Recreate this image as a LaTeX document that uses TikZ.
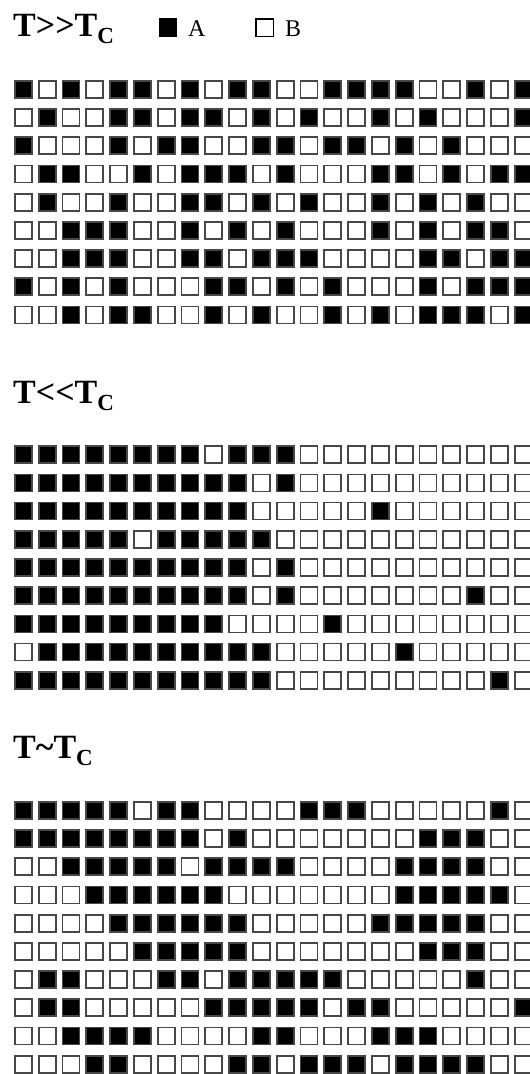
\documentclass[tikz,border=0pt]{standalone}
\usepackage{fontspec}
\setmainfont{Liberation Serif}
\usetikzlibrary{positioning}
\tikzset{
    cell/.style={draw=black!72, line width=1.7pt, minimum size=17pt,
        inner sep=0pt, outer sep=0pt},
    phase/.style={font=\fontsize{34}{40}\selectfont\bfseries,
        anchor=base west, inner sep=0pt},
    keybox/.style={inner sep=0pt, outer sep=0pt},
    keytext/.style={font=\fontsize{24}{28}\selectfont, anchor=base west, inner sep=0pt}
}
\newcommand{\subC}{\raisebox{-7pt}{\fontsize{23}{23}\selectfont C}}
% one lattice: name, top edge, rows of 1 (A) and 0 (B)
\newcommand{\lattice}[3]{%
    \foreach \row [count=\r] in {#3} {
        \foreach \v [count=\c] in \row {
            \ifnum\v=1 \def\tone{black}\else\def\tone{white}\fi
            \node[cell, fill=\tone] (#1-\r-\c)
                at ({14+23.8*(\c-1)+9.35}, {-(#2+28.2*(\r-1)+9.35)}) {};
        }
    }
}
\begin{document}
\begin{tikzpicture}[x=1pt, y=1pt]
\useasboundingbox[fill=white] (0,0) rectangle (530,-1074);

% legend
\node[phase] (hot) at (13,-36) {T>{}>T\subC};
\node[keybox, fill=black, minimum size=18.5pt, anchor=north west] (keyA) at (158.5,-18.3) {};
\node[keytext] (labA) at (188,-36) {A};
\node[keybox, draw, line width=1.2pt, minimum size=17.3pt, anchor=north west] (keyB) at (256,-18.9) {};
\node[keytext] (labB) at (285,-36) {B};

% T >> Tc
\lattice{hi}{80}{%
    {1,0,1,0,1,1,0,1,0,1,1,0,0,1,1,1,1,0,0,1,0,1},
    {0,1,0,0,1,1,0,1,1,0,1,0,1,0,0,1,0,1,0,0,0,1},
    {1,0,0,0,1,0,1,1,0,0,1,1,0,1,1,0,1,0,1,0,0,0},
    {0,1,1,0,0,1,0,1,1,1,0,1,0,0,0,1,1,0,1,0,1,1},
    {0,1,0,0,1,0,0,1,1,0,1,0,1,0,0,1,0,1,0,1,0,0},
    {0,0,1,1,1,0,0,1,0,1,0,1,0,0,0,1,0,1,0,1,1,0},
    {0,0,1,1,1,0,0,1,1,0,1,1,1,0,0,0,0,1,1,0,1,1},
    {1,0,1,0,1,0,0,0,1,1,0,1,0,1,0,0,0,1,0,1,1,1},
    {0,0,1,0,1,1,0,0,1,0,1,0,0,1,0,1,0,1,1,1,0,1}}

% T << Tc
\node[phase] (cold) at (13,-403) {T<{}<T\subC};
\lattice{lo}{445.3}{%
    {1,1,1,1,1,1,1,1,0,1,1,1,0,0,0,0,0,0,0,0,0,0},
    {1,1,1,1,1,1,1,1,1,1,0,1,0,0,0,0,0,0,0,0,0,0},
    {1,1,1,1,1,1,1,1,1,1,0,0,0,0,0,1,0,0,0,0,0,0},
    {1,1,1,1,1,0,1,1,1,1,1,0,0,0,0,0,0,0,0,0,0,0},
    {1,1,1,1,1,1,1,1,1,1,0,1,0,0,0,0,0,0,0,0,0,0},
    {1,1,1,1,1,1,1,1,1,1,0,1,0,0,0,0,0,0,0,1,0,0},
    {1,1,1,1,1,1,1,1,1,0,0,0,0,1,0,0,0,0,0,0,0,0},
    {0,1,1,1,1,1,1,1,1,1,1,0,0,0,0,0,1,0,0,0,0,0},
    {1,1,1,1,1,1,1,1,1,1,1,0,0,0,0,0,0,0,0,0,1,0}}

% T ~ Tc
\node[phase] (crit) at (13,-758) {T\textasciitilde T\subC};
\lattice{mid}{801}{%
    {1,1,1,1,1,0,1,1,0,0,0,0,1,1,1,0,0,0,0,0,1,0},
    {1,1,1,1,1,1,1,1,0,1,0,0,0,0,0,0,0,1,1,1,0,0},
    {0,0,1,1,1,1,1,0,1,1,1,1,0,0,0,0,1,1,1,1,0,0},
    {0,0,0,1,1,1,1,1,1,0,0,0,0,0,0,0,1,1,1,1,1,0},
    {0,0,0,0,1,1,1,1,1,1,0,0,0,0,0,1,1,1,1,1,0,0},
    {0,0,0,0,0,1,1,1,1,1,0,0,0,0,0,0,0,1,1,1,0,0},
    {0,1,1,0,0,0,1,1,0,1,1,1,1,1,0,0,0,0,0,1,0,0},
    {0,1,1,0,0,0,0,0,1,1,1,1,1,0,1,1,0,0,0,0,0,1},
    {0,0,1,1,1,1,0,0,0,0,1,1,0,0,0,1,1,1,0,0,0,0},
    {0,0,0,1,1,0,0,0,0,1,1,0,1,1,1,0,1,1,1,1,0,0}}
\end{tikzpicture}
\end{document}
